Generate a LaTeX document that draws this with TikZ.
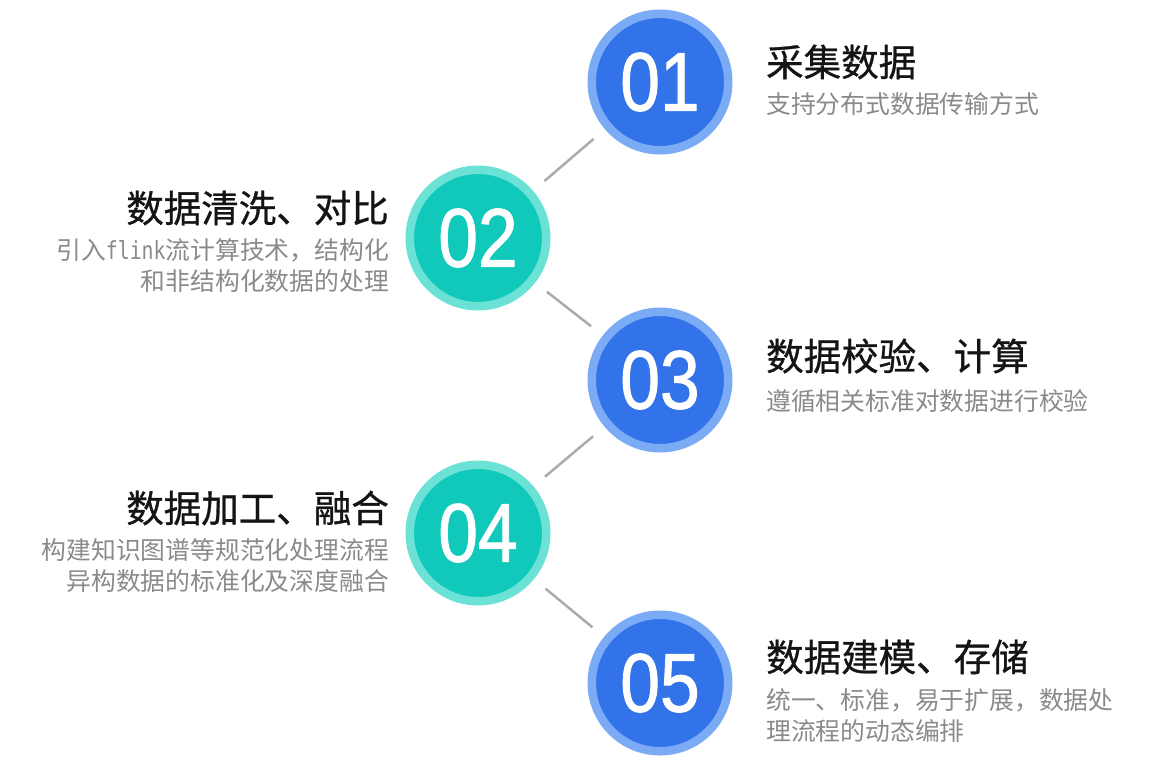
\documentclass[tikz,border=0pt]{standalone}
\usepackage{fontspec}
\usepackage{graphicx}
\setmainfont{Noto Sans CJK SC}
\newfontfamily\titlefont[FakeBold=0.8]{Noto Sans CJK SC}
\newfontfamily\numfont[FakeBold=1.2]{Liberation Sans}
\newfontfamily\flinkfont{DejaVu Sans Mono}
\definecolor{lan}{HTML}{3273EA}
\definecolor{lanl}{HTML}{7AABF4}
\definecolor{qing}{HTML}{10C9BA}
\definecolor{qingl}{HTML}{6CE2D6}
\definecolor{hui}{HTML}{8A8A8A}
\definecolor{xian}{HTML}{ABABAB}
\tikzset{
  quan/.style={circle,minimum size=136.5pt,inner sep=0pt,line width=8.5pt,text=white,font=\numfont\fontsize{83}{83}\selectfont},
  quanb/.style={quan,fill=lan,draw=lanl},
  quanq/.style={quan,fill=qing,draw=qingl},
  biaoti/.style={inner sep=0pt,font=\titlefont\fontsize{37.5}{40}\selectfont,text=black!92},
  shuoming/.style={inner sep=0pt,font=\fontsize{24.8}{31}\selectfont,text=hui},
  lian/.style={xian,line width=2.5pt,shorten <=15pt,shorten >=15pt},
}

\begin{document}
\begin{tikzpicture}[x=1pt,y=-1pt]
  \useasboundingbox (0,0) rectangle (1159,780);
  % kreise
  \node[quanb] (c1) at (660,82) {\scalebox{0.86}[1]{01}};
  \node[quanq] (c2) at (478,238) {\scalebox{0.86}[1]{02}};
  \node[quanb] (c3) at (660,380) {\scalebox{0.86}[1]{03}};
  \node[quanq] (c4) at (478,533) {\scalebox{0.86}[1]{04}};
  \node[quanb] (c5) at (660,683) {\scalebox{0.86}[1]{05}};
  % linien
  \draw[lian] (c1) -- (c2);
  \draw[lian] (c2) -- (c3);
  \draw[lian] (c3) -- (c4);
  \draw[lian] (c4) -- (c5);
  % texte rechts
  \node[biaoti,anchor=west] (t1) at (766,62) {采集数据};
  \node[shuoming,anchor=west] (s1) at (766,104) {支持分布式数据传输方式};
  \node[biaoti,anchor=west] (t3) at (766,356) {数据校验、计算};
  \node[shuoming,anchor=west] (s3) at (766,401) {遵循相关标准对数据进行校验};
  \node[biaoti,anchor=west] (t5) at (766,657) {数据建模、存储};
  \node[shuoming,anchor=west,align=left] (s5) at (766,715.5) {统一、标准，易于扩展，数据处\\理流程的动态编排};
  % texte links
  \node[biaoti,anchor=east] (t2) at (389,208) {数据清洗、对比};
  \node[shuoming,anchor=east,align=right] (s2) at (389,265.5) {引入\scalebox{0.8}[1]{\flinkfont flink}流计算技术，结构化\\和非结构化数据的处理};
  \node[biaoti,anchor=east] (t4) at (389,508) {数据加工、融合};
  \node[shuoming,anchor=east,align=right] (s4) at (389,566) {构建知识图谱等规范化处理流程\\异构数据的标准化及深度融合};
\end{tikzpicture}
\end{document}
